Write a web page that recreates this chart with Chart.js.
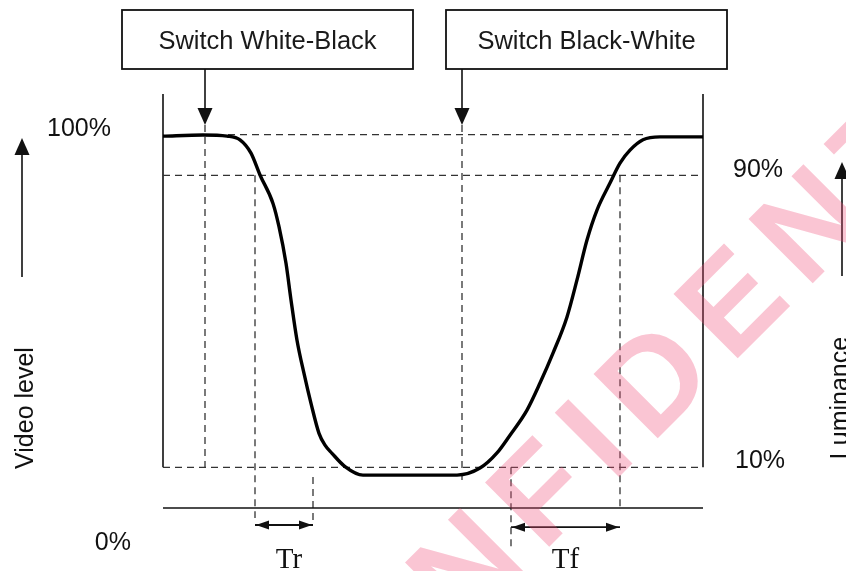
<!DOCTYPE html>
<html>
<head>
<meta charset="utf-8">
<script src="https://cdn.jsdelivr.net/npm/chart.js@4.4.1/dist/chart.umd.min.js"></script>
<style>
  html, body { margin: 0; padding: 0; background: #fff; }
  #wrap { width: 846px; height: 571px; position: relative; }
</style>
</head>
<body>
<div id="wrap"><canvas id="responseChart"></canvas></div>
<script>
// response curve, time in arbitrary units, level in % of video level
const timeValues = [0, 4, 6.4, 7.7, 8.8, 9.7, 11.0, 11.6, 12.3, 12.8, 13.4, 14.1, 14.8, 15.6, 16.2, 16.9, 18.2, 20,
    29.4, 31.7, 33.4, 34.7, 36.4, 37.7, 39, 40.4, 41.4, 42.4, 43.4, 44.7, 45.7, 46.7, 48, 49.7, 54];
const levelValues = [99.6, 99.9, 99.6, 98.6, 95.0, 89.1, 81.4, 75.1, 65.2, 55.3, 44.4, 35.4, 27.3, 19.2, 16.0, 13.8, 10.2, 7.9,
    7.9, 9.8, 13.9, 18.7, 25.5, 32.8, 40.9, 50.7, 60.7, 71.5, 79.6, 86.9, 92.3, 95.8, 98.6, 99.4, 99.4];

// threshold levels
const levelLabels = ['100%', '90%', '10%', '0%'];
const levelValuesRef = [100, 89, 10, -1];

// dashed marker lines (time, from level, to level)
const markerTimes = [4.2, 9.2, 15, 29.9, 34.8, 45.7];
const markerFrom = [102.6, 89, 7.4, 102.6, 10, 89];
const markerTo = [8.5, -3.7, -5.6, 5.8, -11.8, -1];

// switch events and measured intervals
const switchLabels = ['Switch White-Black', 'Switch Black-White'];
const switchTimes = [4.2, 29.9];
const intervalLabels = ['Tr', 'Tf'];
const intervalStart = [9.2, 34.8];
const intervalEnd = [15, 45.7];
const intervalLevel = [-5.6, -6.2];

const startTime = 0;
const endTime = 54;

function seg(x1, y1, x2, y2, dashed, width) {
    return {
        data: [{x: x1, y: y1}, {x: x2, y: y2}],
        borderColor: dashed ? '#333' : '#111',
        borderWidth: width || (dashed ? 1.3 : 1.6),
        borderDash: dashed ? [7, 5] : [],
        pointRadius: 0,
        tension: 0,
        clip: false,
        order: 2
    };
}

const datasets = [];
// response curve
datasets.push({
    data: timeValues.map((t, i) => ({x: t, y: levelValues[i]})),
    borderColor: '#000',
    borderWidth: 3.4,
    pointRadius: 0,
    cubicInterpolationMode: 'monotone',
    clip: false,
    order: 0
});
// horizontal dashed thresholds
datasets.push(seg(6.5, levelValuesRef[0], 48, levelValuesRef[0], true));
datasets.push(seg(startTime, levelValuesRef[1], endTime, levelValuesRef[1], true));
datasets.push(seg(startTime, levelValuesRef[2], endTime, levelValuesRef[2], true));
// frame: verticals and base line
datasets.push(seg(startTime, 111, startTime, levelValuesRef[2], false));
datasets.push(seg(endTime, 111, endTime, levelValuesRef[2], false));
datasets.push(seg(startTime, levelValuesRef[3], endTime, levelValuesRef[3], false));
// markers
markerTimes.forEach((t, i) => datasets.push(seg(t, markerFrom[i], t, markerTo[i], true)));
// interval arrows (shafts)
intervalStart.forEach((t, i) => datasets.push(seg(t, intervalLevel[i], intervalEnd[i], intervalLevel[i], false, 1.8)));

function arrowHead(ctx, x, y, dx, dy, len, half) {
    // tip at (x,y), pointing along (dx,dy)
    const px = -dy, py = dx;
    ctx.beginPath();
    ctx.moveTo(x, y);
    ctx.lineTo(x - dx * len + px * half, y - dy * len + py * half);
    ctx.lineTo(x - dx * len - px * half, y - dy * len - py * half);
    ctx.closePath();
    ctx.fill();
}

const decorations = {
    id: 'decorations',
    afterDatasetsDraw(chart) {
        const ctx = chart.ctx;
        const xs = chart.scales.x, ys = chart.scales.y;
        ctx.save();
        ctx.fillStyle = '#111';
        ctx.strokeStyle = '#111';

        // switch boxes and arrows
        const boxLeft = [-83, -16];
        const boxWidth = [291, 281];
        switchLabels.forEach((label, i) => {
            const x = xs.getPixelForValue(switchTimes[i]);
            const tip = ys.getPixelForValue(102.6);
            ctx.lineWidth = 1.8;
            ctx.strokeRect(x + boxLeft[i], 10, boxWidth[i], 59);
            ctx.font = '25.5px "Liberation Sans", Arial, sans-serif';
            ctx.textAlign = 'center';
            ctx.textBaseline = 'alphabetic';
            ctx.fillStyle = '#1a1a1a';
            ctx.fillText(label, x + boxLeft[i] + boxWidth[i] / 2, 49);
            ctx.fillStyle = '#111';
            ctx.lineWidth = 1.6;
            ctx.beginPath();
            ctx.moveTo(x, 69);
            ctx.lineTo(x, tip - 10);
            ctx.stroke();
            arrowHead(ctx, x, tip, 0, 1, 17, 7.5);
        });

        // interval arrow heads and labels
        intervalLabels.forEach((label, i) => {
            const x1 = xs.getPixelForValue(intervalStart[i]);
            const x2 = xs.getPixelForValue(intervalEnd[i]);
            const y = ys.getPixelForValue(intervalLevel[i]);
            arrowHead(ctx, x1 + 1, y, -1, 0, 13, 4.5);
            arrowHead(ctx, x2 - 1, y, 1, 0, 13, 4.5);
            ctx.font = '29px "Liberation Serif", "Times New Roman", serif';
            ctx.textAlign = 'center';
            ctx.textBaseline = 'alphabetic';
            ctx.fillText(label, (x1 + x2) / 2 + (i === 0 ? 5 : 0), 568);
        });

        // level labels
        ctx.font = '25px "Liberation Sans", Arial, sans-serif';
        ctx.textBaseline = 'middle';
        ctx.textAlign = 'right';
        ctx.fillText(levelLabels[0], 111, ys.getPixelForValue(levelValuesRef[0]) - 6);
        ctx.textAlign = 'left';
        ctx.fillText(levelLabels[1], 733, ys.getPixelForValue(levelValuesRef[1]) - 5);
        ctx.fillText(levelLabels[2], 735, ys.getPixelForValue(levelValuesRef[2]) - 6);
        ctx.textAlign = 'right';
        ctx.fillText(levelLabels[3], 131, 543);

        // axis titles with arrows
        ctx.save();
        ctx.translate(33, 408);
        ctx.rotate(-Math.PI / 2);
        ctx.textAlign = 'center';
        ctx.textBaseline = 'alphabetic';
        ctx.fillText('Video level', 0, 0);
        ctx.restore();
        ctx.save();
        ctx.translate(848, 398);
        ctx.rotate(-Math.PI / 2);
        ctx.textAlign = 'center';
        ctx.textBaseline = 'alphabetic';
        ctx.fillText('Luminance', 0, 0);
        ctx.restore();

        ctx.lineWidth = 1.6;
        ctx.beginPath();
        ctx.moveTo(22, 277); ctx.lineTo(22, 150);
        ctx.moveTo(842, 276); ctx.lineTo(842, 175);
        ctx.stroke();
        arrowHead(ctx, 22, 138, 0, -1, 17, 7.5);
        arrowHead(ctx, 842, 162, 0, -1, 17, 7.5);

        // watermark
        ctx.font = 'bold 132px "Liberation Sans", Arial, sans-serif';
        ctx.letterSpacing = '18px';
        ctx.textAlign = 'left';
        ctx.textBaseline = 'alphabetic';
        const pre = ctx.measureText('CONFID').width;
        const c = Math.SQRT1_2;
        ctx.translate(731.6 - pre * c, 364.4 + pre * c);
        ctx.rotate(-Math.PI / 4);
        ctx.fillStyle = 'rgba(240, 80, 120, 0.33)';
        ctx.fillText('CONFIDENTIAL', 0, 0);
        ctx.restore();
    }
};

new Chart(document.getElementById('responseChart').getContext('2d'), {
    type: 'line',
    data: { datasets: datasets },
    options: {
        responsive: true,
        maintainAspectRatio: false,
        animation: false,
        events: [],
        layout: { padding: { left: 163, right: 143, top: 94, bottom: 63 } },
        scales: {
            x: { type: 'linear', min: startTime, max: endTime, display: false },
            y: { type: 'linear', min: -1, max: 111, display: false }
        },
        plugins: { legend: { display: false }, tooltip: { enabled: false } }
    },
    plugins: [decorations]
});
</script>
</body>
</html>
